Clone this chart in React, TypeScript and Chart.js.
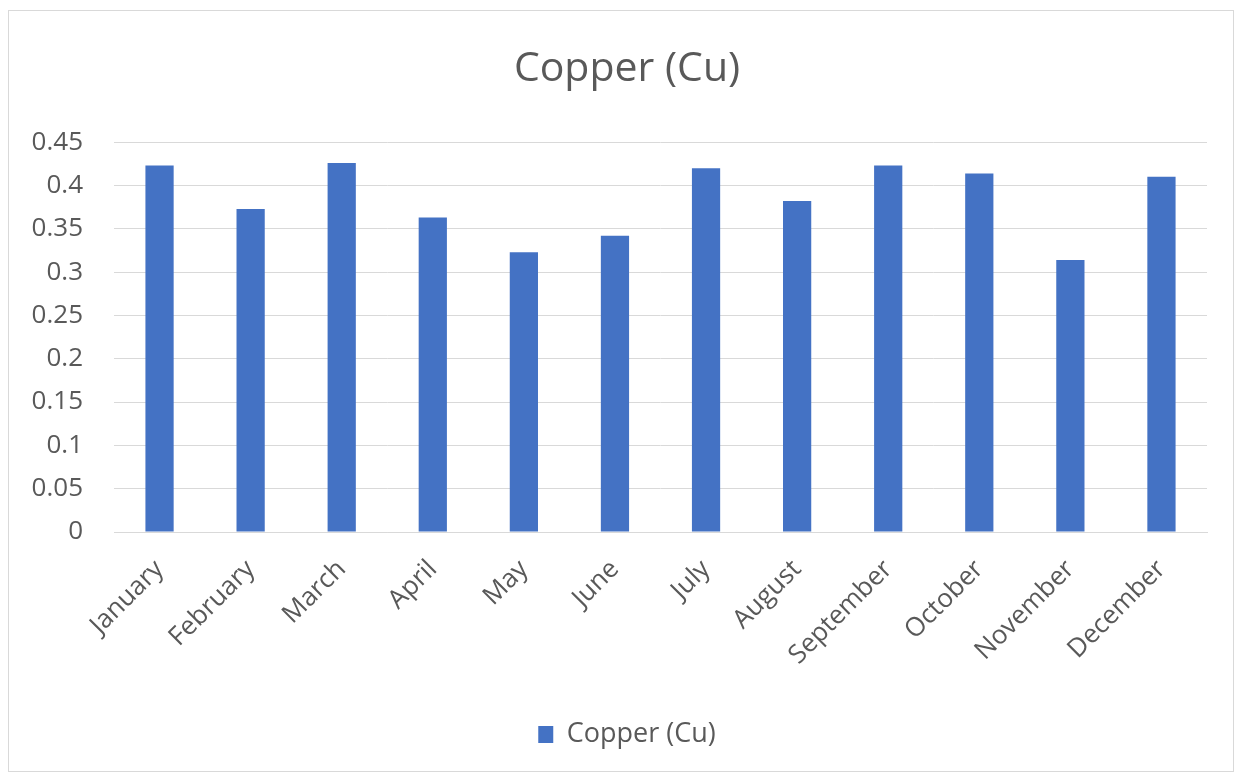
import React, { useEffect, useRef } from "react";
import { Chart, registerables } from "chart.js";

Chart.register(...registerables);

const months = ["January","February","March","April","May","June","July","August","September","October","November","December"];
const copperValues = [0.423, 0.373, 0.426, 0.363, 0.323, 0.342, 0.420, 0.382, 0.423, 0.414, 0.314, 0.410];
const seriesLabel = "Copper (Cu)";
const titleText = "Copper (Cu)";

const FONT = "'Open Sans', Lato, sans-serif";
const GRAY = "#595959";

export default function App() {
  const ref = useRef<HTMLCanvasElement | null>(null);
  useEffect(() => {
    document.body.style.margin = "0";
    const chart = new Chart(ref.current!, {
      type: "bar",
      data: {
        labels: months,
        datasets: [{
          label: seriesLabel,
          data: copperValues,
          backgroundColor: "#4472C4",
          borderWidth: 0,
          categoryPercentage: 1,
          barPercentage: 0.31,
        }],
      },
      options: {
        animation: false,
        responsive: false,
        maintainAspectRatio: false,
        layout: { padding: { left: 12, right: 0, top: 0, bottom: 13 } },
        plugins: {
          title: {
            display: true,
            text: titleText,
            color: GRAY,
            font: { family: FONT, size: 41, weight: "normal" },
            padding: { top: 34, bottom: 48 },
          },
          legend: {
            position: "bottom",
            labels: {
              color: GRAY,
              font: { family: FONT, size: 27 },
              boxWidth: 15,
              boxHeight: 17,
              padding: 14,
            },
          },
          tooltip: { enabled: false },
        },
        scales: {
          x: {
            grid: { display: false },
            border: { display: true, color: "#d9d9d9" },
            ticks: {
              color: GRAY,
              font: { family: FONT, size: 26 },
              minRotation: 45,
              maxRotation: 45,
              padding: 14,
            },
            afterFit: (scale: any) => { scale.height = 175; },
          },
          y: {
            min: 0,
            max: 0.45,
            grid: { color: "#d9d9d9", drawTicks: false },
            border: { display: false },
            ticks: {
              stepSize: 0.05,
              color: GRAY,
              font: { family: FONT, size: 26 },
              padding: 31,
              callback: (v: any) => String(Math.round(Number(v) * 100) / 100),
            },
            afterFit: (scale: any) => { scale.width = 93; },
          },
          yRight: {
            position: "right",
            min: 0,
            max: 0.45,
            grid: { display: false, drawTicks: false },
            border: { display: false },
            ticks: { display: false },
            afterFit: (scale: any) => { scale.width = 26; },
          },
        },
      },
    });
    return () => chart.destroy();
  }, []);
  return (
    <div style={{ position: "absolute", left: 8, top: 10, width: 1224, height: 760, border: "1px solid #d9d9d9", background: "#fff" }}>
      <canvas ref={ref} width={1224} height={760} style={{ display: "block" }} />
    </div>
  );
}
